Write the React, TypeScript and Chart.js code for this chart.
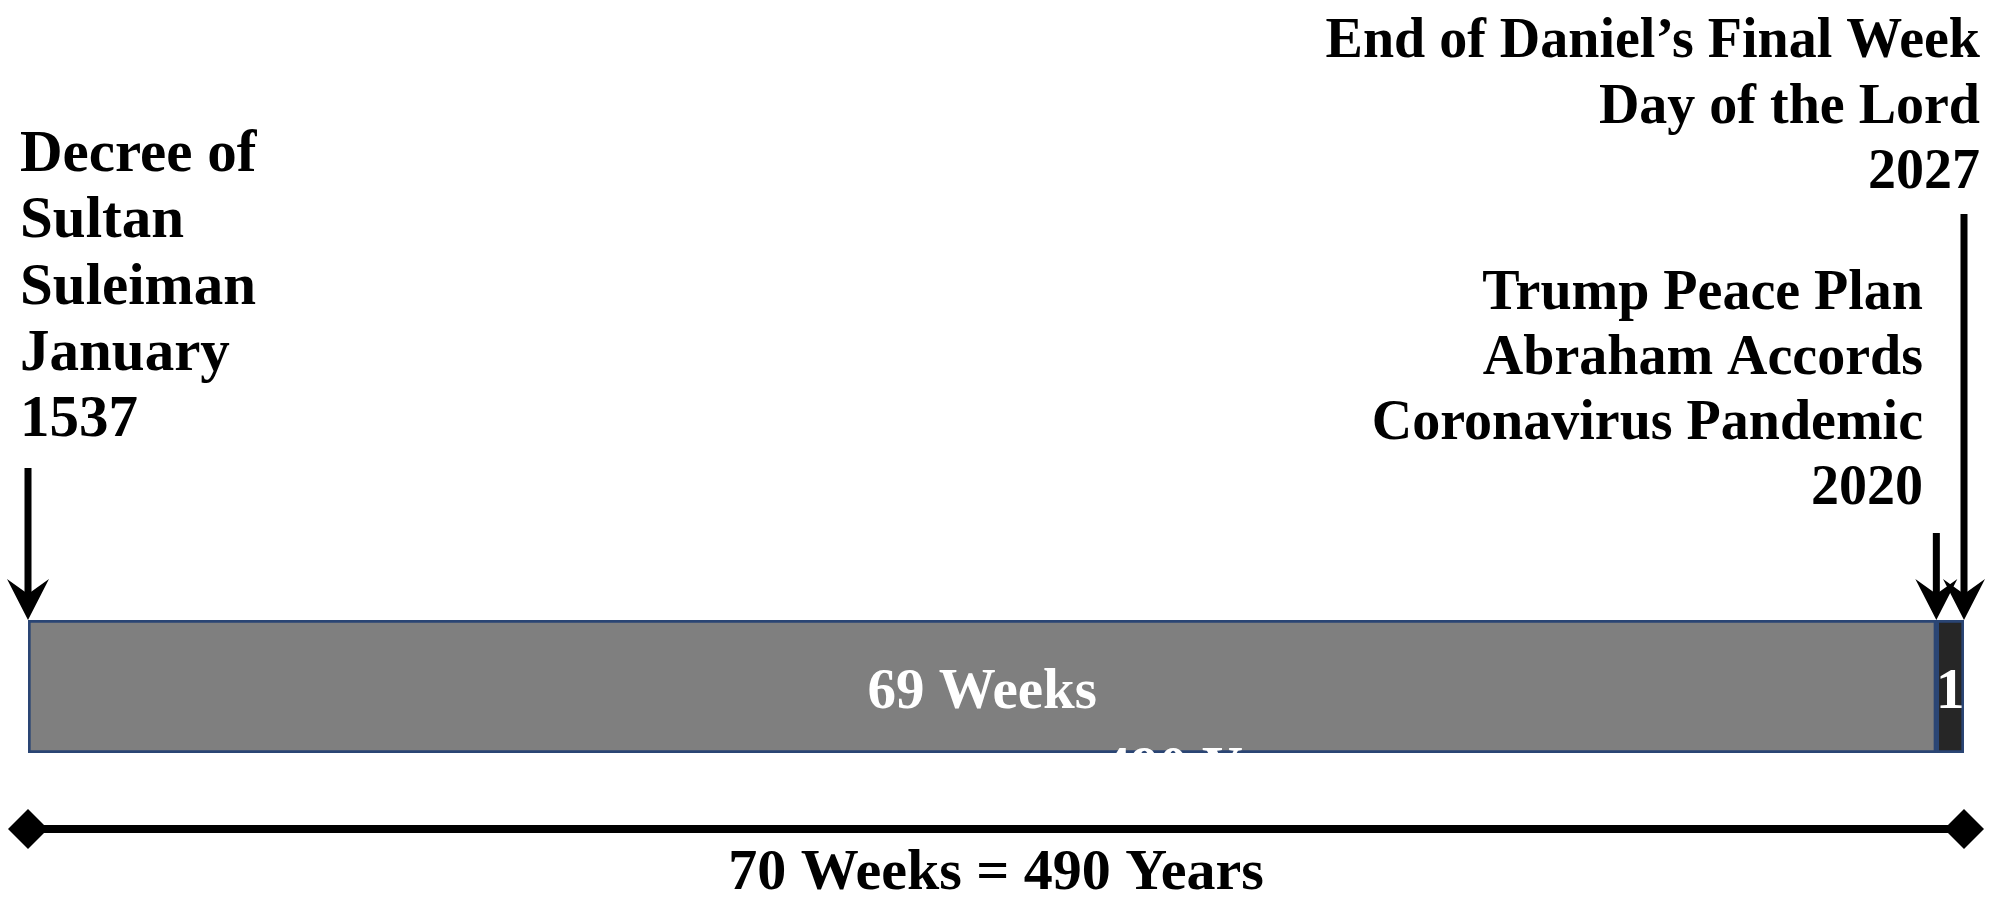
import React, { useEffect, useRef } from "react";
import { Chart, registerables } from "chart.js";

Chart.register(...registerables);

// ---- data ----
const categories = ["Daniel's 70 Weeks"];
const segmentLabels = ["69 Weeks", "1"];
const segmentWeeks = [69, 1];
const segmentColors = ["#7f7f7f", "#262626"];
const totalWeeks = 70;
const startLabel = ["Decree of", "Sultan", "Suleiman", "January", "1537"];
const middleLabel = ["Trump Peace Plan", "Abraham Accords", "Coronavirus Pandemic", "2020"];
const endLabel = ["End of Daniel\u2019s Final Week", "Day of the Lord", "2027"];
const hiddenLabel = "490 Years";
const spanLabel = "70 Weeks = 490 Years";

const FONT = '"Liberation Serif", "Times New Roman", serif';

function drawArrow(ctx: CanvasRenderingContext2D, x: number, top: number, tip: number) {
  ctx.save();
  ctx.fillStyle = "#000";
  ctx.fillRect(x - 3.5, top, 7, tip - top - 20);
  ctx.beginPath();
  ctx.moveTo(x, tip);
  ctx.lineTo(x + 21, tip - 41);
  ctx.lineTo(x, tip - 26);
  ctx.lineTo(x - 21, tip - 41);
  ctx.closePath();
  ctx.fill();
  ctx.restore();
}

function drawDiamond(ctx: CanvasRenderingContext2D, x: number, y: number, r: number) {
  ctx.beginPath();
  ctx.moveTo(x - r, y);
  ctx.lineTo(x, y - r);
  ctx.lineTo(x + r, y);
  ctx.lineTo(x, y + r);
  ctx.closePath();
  ctx.fill();
}

const annotations = {
  id: "timelineAnnotations",
  afterDatasetsDraw(chart: any) {
    const ctx: CanvasRenderingContext2D = chart.ctx;
    const xs = chart.scales.x;
    const area = chart.chartArea;
    const x0 = xs.getPixelForValue(0);
    const x69 = xs.getPixelForValue(segmentWeeks[0]);
    const x70 = xs.getPixelForValue(totalWeeks);
    const barTop = area.top;
    const barBottom = area.bottom;
    const barMid = (barTop + barBottom) / 2;

    ctx.save();
    // labels inside bar
    ctx.fillStyle = "#ffffff";
    ctx.font = `bold 57px ${FONT}`;
    ctx.textAlign = "center";
    ctx.textBaseline = "alphabetic";
    ctx.fillText(segmentLabels[0], (x0 + x69) / 2, barMid + 21);
    ctx.fillText(segmentLabels[1], (x69 + x70) / 2, barMid + 21);
    // hidden white label peeking under bar
    ctx.textAlign = "left";
    ctx.fillText(hiddenLabel, x0 + 1074, barBottom + 33);

    // arrows
    drawArrow(ctx, x0, barTop - 152, barTop);
    drawArrow(ctx, x69, barTop - 87, barTop);
    drawArrow(ctx, x70, barTop - 406, barTop);

    // text blocks
    ctx.fillStyle = "#000";
    ctx.font = `bold 59px ${FONT}`;
    ctx.textAlign = "left";
    startLabel.forEach((t, i) => ctx.fillText(t, x0 - 8, 171 + i * 66.3));
    ctx.font = `bold 56px ${FONT}`;
    ctx.textAlign = "right";
    endLabel.forEach((t, i) => ctx.fillText(t, x70 + 16, 57 + i * 65.5));
    middleLabel.forEach((t, i) => ctx.fillText(t, x70 - 41, 309 + i * 65));

    // span line
    const ly = barBottom + 76;
    ctx.fillRect(x0, ly - 4, x70 - x0, 8);
    drawDiamond(ctx, x0, ly, 20);
    drawDiamond(ctx, x70, ly, 20);
    ctx.font = `bold 58px ${FONT}`;
    ctx.textAlign = "center";
    ctx.fillText(spanLabel, (x0 + x70) / 2, barBottom + 136);
    ctx.restore();
  },
};

export default function App() {
  const ref = useRef<HTMLCanvasElement | null>(null);
  useEffect(() => {
    document.body.style.margin = "0";
    const canvas = ref.current!;
    const chart = new Chart(canvas, {
      type: "bar",
      data: {
        labels: categories,
        datasets: segmentWeeks.map((v, i) => ({
          label: segmentLabels[i],
          data: [v],
          backgroundColor: segmentColors[i],
          borderColor: "#2a4574",
          borderWidth: 3,
          borderSkipped: false as any,
          barPercentage: 1,
          categoryPercentage: 1,
        })),
      },
      options: {
        indexAxis: "y",
        animation: false,
        responsive: false,
        maintainAspectRatio: false,
        layout: { padding: { left: 28, right: 35, top: 620, bottom: 145 } },
        scales: {
          x: { stacked: true, min: 0, max: totalWeeks, display: false },
          y: { stacked: true, display: false },
        },
        plugins: { legend: { display: false }, tooltip: { enabled: false } },
      },
      plugins: [annotations],
    });
    return () => chart.destroy();
  }, []);
  return (
    <div style={{ width: 1999, height: 898, background: "#fff" }}>
      <canvas ref={ref} width={1999} height={898} style={{ display: "block" }} />
    </div>
  );
}
